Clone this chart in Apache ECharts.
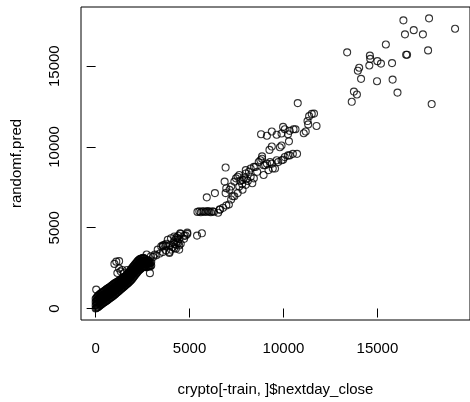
<!DOCTYPE html>
<html>
<head>
<meta charset="utf-8">
<script src="https://cdn.jsdelivr.net/npm/echarts@6/dist/echarts.min.js"></script>
<style>
  html, body { margin: 0; padding: 0; background: #ffffff; }
  #chart { width: 470px; height: 402px; }
</style>
</head>
<body>
<div id="chart"></div>
<script>
// actual next-day close vs random forest prediction, read off the plot
// low prices (dense blob near the origin)
var lowPts = [
  [0,0],[0,200],[0,400],[0,600],[40,30],[40,250],[40,450],[40,650],
  [80,60],[80,300],[80,520],[80,720],[120,80],[120,320],[120,560],[120,780],
  [160,120],[160,360],[160,600],[160,820],[200,160],[200,400],[200,640],[200,860],
  [240,200],[240,440],[240,680],[240,900],[280,240],[280,480],[280,720],[280,940],
  [320,270],[320,510],[320,750],[320,970],[360,310],[360,550],[360,790],[360,1010],
  [400,340],[400,580],[400,820],[400,1040],[440,370],[440,610],[440,850],[440,1070],
  [480,400],[480,640],[480,880],[480,1100],[520,430],[520,670],[520,900],[520,1130],
  [560,470],[560,710],[560,940],[560,1170],[600,500],[600,740],[600,970],[600,1200],
  [640,530],[640,770],[640,1000],[640,1230],[680,570],[680,810],[680,1040],[680,1270],
  [720,600],[720,840],[720,1070],[720,1300],[760,640],[760,870],[760,1100],[760,1330],
  [800,680],[800,900],[800,1130],[800,1350],[840,700],[840,930],[840,1170],[840,1400],
  [880,740],[880,970],[880,1210],[880,1440],[920,770],[920,1000],[920,1240],[920,1470],
  [960,810],[960,1040],[960,1280],[960,1510],[1000,850],[1000,1080],[1000,1310],[1000,1540],
  [1040,890],[1040,1120],[1040,1350],[1040,1570],[1080,930],[1080,1150],[1080,1380],[1080,1600],
  [1120,970],[1120,1190],[1120,1420],[1120,1630],[1160,1010],[1160,1230],[1160,1450],[1160,1660],
  [1200,1050],[1200,1270],[1200,1480],[1200,1690],[1240,1090],[1240,1300],[1240,1510],[1240,1720],
  [1280,1130],[1280,1340],[1280,1550],[1280,1750],[1320,1170],[1320,1380],[1320,1580],[1320,1780],
  [1360,1210],[1360,1410],[1360,1620],[1360,1810],[1400,1250],[1400,1450],[1400,1650],[1400,1840],
  [1440,1290],[1440,1490],[1440,1680],[1440,1870],[1480,1330],[1480,1520],[1480,1710],[1480,1900],
  [1520,1370],[1520,1560],[1520,1750],[1520,1930],[1560,1410],[1560,1600],[1560,1790],[1560,1970],
  [1600,1450],[1600,1640],[1600,1830],[1600,2010],[1640,1490],[1640,1680],[1640,1870],[1640,2050],
  [1680,1530],[1680,1720],[1680,1920],[1680,2100],[1720,1570],[1720,1770],[1720,1970],[1720,2160],
  [1760,1610],[1760,1820],[1760,2020],[1760,2220],[1800,1650],[1800,1870],[1800,2080],[1800,2280],
  [1840,1700],[1840,1930],[1840,2140],[1840,2350],[1880,1750],[1880,1980],[1880,2190],[1880,2410],
  [1920,1800],[1920,2040],[1920,2250],[1920,2470],[1960,1860],[1960,2100],[1960,2310],[1960,2530],
  [2000,1920],[2000,2150],[2000,2370],[2000,2590],[2040,1980],[2040,2210],[2040,2430],[2040,2650],
  [2080,2040],[2080,2270],[2080,2490],[2080,2710],[2120,2100],[2120,2330],[2120,2540],[2120,2760],
  [2160,2160],[2160,2390],[2160,2600],[2160,2820],[2200,2210],[2200,2440],[2200,2650],[2200,2870],
  [2240,2270],[2240,2500],[2240,2710],[2240,2930],[2280,2330],[2280,2550],[2280,2760],[2280,2980],
  [2320,2380],[2320,2600],[2320,2800],[2320,3020],[2360,2420],[2360,2640],[2360,2840],[2360,3060],
  [2400,2460],[2400,2680],[2400,2870],[2400,3080],[2440,2500],[2440,2710],[2440,2900],[2440,3100],
  [2480,2540],[2480,2730],[2480,2920],[2480,3110],[2520,2560],[2520,2750],[2520,2930],[2520,3100],
  [2560,2580],[2560,2760],[2560,2940],[2560,3100],[2600,2570],[2600,2750],[2600,2930],[2600,3090],
  [2640,2590],[2640,2770],[2640,2950],[2680,2560],[2680,2760],[2680,2940],
  [2720,2600],[2720,2790],[2720,2970],[2760,2580],[2760,2770],[2760,2960],
  [2800,2620],[2800,2800],[2800,2980],[2840,2600],[2840,2790],[2840,2970],
  [2880,2640],[2880,2820],[2920,2620],[2920,2810],[2960,2660],[2960,2880],
  [2890,2190],[30,1170],[1000,2760],[1100,2900],[1250,2930],[1157,2200],[1330,2300],
  [1417,2388],[1505,2187],[1677,2388],[1250,2480]
];
// mid prices
var midPts = [
  [3062,3196],[3233,3299],[3410,3402],[3580,3500],[3753,3602],[3929,3500],
  [3150,3341],[2943,3238],[2715,3341],[2543,3135],
  [3306,3645],[3493,3845],[3580,3845],[3669,3949],[3753,3888],[3841,4253],
  [4012,4350],[4188,4453],[4360,4350],[4500,4654],[4707,4496],[4879,4696],
  [4448,3645],[4188,3742],[4012,3645],[3929,3438],[3580,3906],[3753,4010],
  [3929,3906],[4100,3803],[4271,3706],[4448,3906],[4531,4010],[4791,4514],
  [4879,4617],[4707,4313],[4150,4100],[4250,4250],[4300,4400],[4350,4150],
  [4400,4500],[4200,4000],[4450,4300],[4300,3950],[4400,4050],[4531,4617],
  [5398,4514],[5657,4654],
  [5420,5980],[5520,6010],[5600,5960],[5680,6000],[5750,6020],[5830,5970],
  [5900,6000],[5980,6030],[6050,5990],[6130,5960],[6220,6010],[6300,5990],
  [6610,6110],[6955,6380],[5917,6880],
  [6920,8724],[6350,7144],[6867,7855],[6955,7448],[6920,7144],[7127,7351],
  [7302,6944],[7094,6440],[6782,6233],[6610,6136],[6523,5929],
  [7474,8055],[7645,8262],[7821,7958],[7993,8359],[8164,8462],[8252,8159],
  [8340,7752],[8512,8766],[8683,9070],[8860,9270],[9031,8870],[9202,8566],
  [9378,8967],[9550,8663],[9721,9070],[9897,9173],[10069,9374],[10328,9477],
  [10500,9574],[8942,8262],[8600,8462],[8423,8055],
  [7645,7551],[7821,7351],[7562,7144],[7385,6944],[7214,6743],[7993,7655],
  [7700,7900],[7900,8100],[8100,7900],[7800,7700],[8000,8000],
  [10760,12715],[11366,11907],[11505,12047],[11625,12065],[11280,11603],[11315,11397],
  [11760,11300],[11185,10953],[11080,10850],[10640,11093],[10535,11093],[10328,10996],
  [9980,11240],[10070,11093],[8807,10790],[9118,10692],[9378,10953],[9638,10753],
  [9897,10832],[10240,10790],[10292,10346],[9378,10024],[9809,9981],[9897,10085],
  [9254,9817],[10723,9574],[10240,9477],[9980,9210],[9638,9173],[8860,9416],
  [8771,9173],[8942,8870],[9290,9070],[9118,8967],[9430,8663],[8423,8766],
  [8252,8663],[7993,8566],[7562,8159],[7385,7855],[7214,7551]
];
// high prices (top right)
var highPts = [
  [13390,15855],[16385,17836],[17750,17958],[19135,17314],[16935,17229],[16468,16968],
  [17423,16968],[15450,16342],[17698,15977],[16530,15710],[16580,15710],[14600,15650],
  [14620,15450],[15000,15310],[15190,15160],[14570,15040],[15780,15190],[14030,14900],
  [13960,14720],[14130,14215],[14980,14070],[15810,14170],[16070,13365],[13750,13425],
  [13910,13245],[13635,12795],[17890,12655]
];
var xTicks = [0, 5000, 10000, 15000];
var yTicks = [0, 5000, 10000, 15000];

var points = lowPts.concat(midPts, highPts);

var chart = echarts.init(document.getElementById("chart"));
var font = "Liberation Sans, Arial, sans-serif";
var plain = function (v) { return String(v); };
chart.setOption({
  animation: false,
  backgroundColor: "#ffffff",
  grid: {
    left: 81,
    top: 7,
    width: 399,
    height: 319,
    show: true,
    borderColor: "#000000",
    borderWidth: 1
  },
  xAxis: {
    type: "value",
    min: -779,
    max: 19930,
    name: "crypto[-train, ]$nextday_close",
    nameLocation: "middle",
    nameGap: 62,
    nameTextStyle: { color: "#000", fontSize: 15, fontFamily: font },
    axisLine: { show: false },
    splitLine: { show: false },
    axisTick: {
      show: true,
      length: 9,
      customValues: xTicks,
      lineStyle: { color: "#000", width: 1 }
    },
    axisLabel: {
      customValues: xTicks,
      formatter: plain,
      margin: 21,
      color: "#000",
      fontSize: 15,
      fontFamily: font
    }
  },
  yAxis: {
    type: "value",
    min: -711,
    max: 18662,
    name: "randomf.pred",
    nameLocation: "middle",
    nameRotate: 90,
    nameGap: 57,
    nameTextStyle: { color: "#000", fontSize: 15, fontFamily: font },
    axisLine: { show: false },
    splitLine: { show: false },
    axisTick: {
      show: true,
      length: 9,
      customValues: yTicks,
      lineStyle: { color: "#000", width: 1 }
    },
    axisLabel: {
      customValues: yTicks,
      formatter: plain,
      rotate: 90,
      margin: 19,
      color: "#000",
      fontSize: 15,
      fontFamily: font
    }
  },
  series: [
    {
      type: "scatter",
      data: points,
      symbol: "circle",
      symbolSize: 7,
      itemStyle: {
        color: "transparent",
        borderColor: "#000000",
        borderWidth: 1.1
      }
    }
  ]
});
</script>
</body>
</html>
